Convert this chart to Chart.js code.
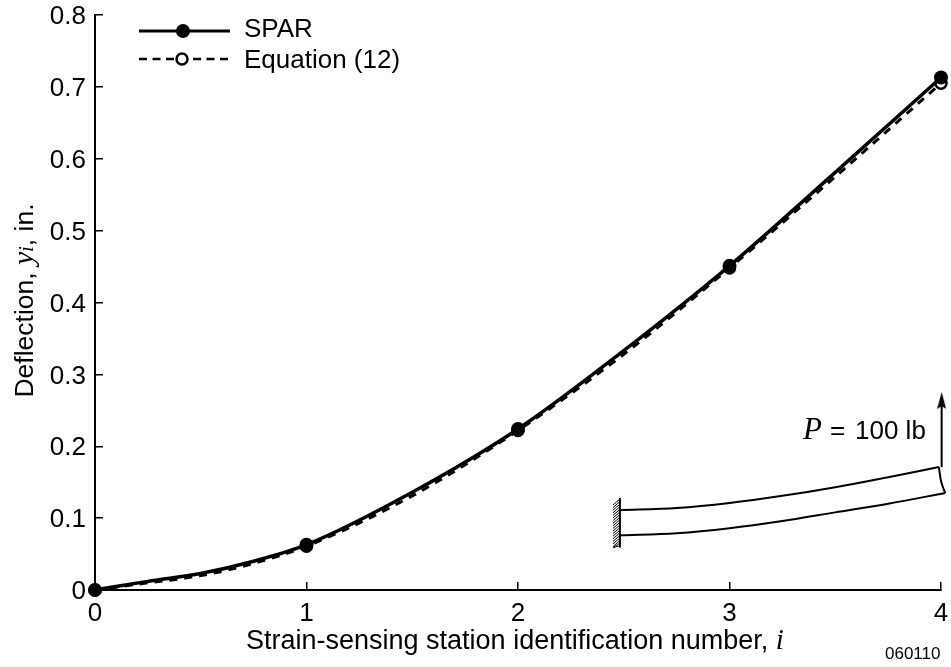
<!DOCTYPE html>
<html><head><meta charset="utf-8">
<style>html,body{margin:0;padding:0;background:#fff}#w{width:951px;height:667px}</style>
<script src="https://cdn.jsdelivr.net/npm/chart.js@4"></script></head>
<body><div id="w"><canvas id="c" width="951" height="667"></canvas></div>
<script>
const stations=[0,0.25,0.5,0.75,1,1.5,2,2.5,3,3.5,4];
const sparValues=[0,0.012,0.023,0.040,0.063,0.136,0.224,0.333,0.451,0.581,0.713];
const equationValues=[0,0.010,0.020,0.037,0.061,0.131,0.222,0.328,0.448,0.575,0.705];
const xTicks=[0,1,2,3,4];
const yTicks=[0,0.1,0.2,0.3,0.4,0.5,0.6,0.7,0.8];
const beamTopX=[2.482,2.75,3,3.25,3.5,3.75,3.99];
const beamTopY=[0.111,0.114,0.121,0.131,0.143,0.157,0.171];
const beamBottomX=[2.482,2.75,3,3.25,3.5,3.75,4.02];
const beamBottomY=[0.076,0.079,0.086,0.096,0.108,0.120,0.135];
const beamEndX=[3.99,3.999,4.02];
const beamEndY=[0.171,0.153,0.135];
const arrowX=[4.003,4.003];
const arrowY=[0.171,0.2637];
const pts=(xs,ys)=>xs.map((x,i)=>({x,y:ys[i]}));
const SANS='"Liberation Sans",Arial,sans-serif', SERIF='"Liberation Serif",serif';
const stationRadius=r=>c=>Number.isInteger(c.raw&&c.raw.x)?r:0;
const inset=(xs,ys)=>({data:pts(xs,ys),borderColor:'#000',borderWidth:2,pointRadius:0,cubicInterpolationMode:'monotone',clip:false,order:5});

const arrowHead=document.createElement('canvas');
arrowHead.width=9;arrowHead.height=17;
(()=>{const g=arrowHead.getContext('2d');g.fillStyle='#000';g.beginPath();g.moveTo(4.5,0);g.lineTo(9,17);g.lineTo(4.5,14);g.lineTo(0,17);g.closePath();g.fill();})();

function runs(ctx,items,x,y){
  for(const [t,f] of items){ctx.font=f;ctx.fillText(t,x,y);x+=ctx.measureText(t).width;}
  return x;
}
function width(ctx,items){let w=0;for(const [t,f] of items){ctx.font=f;w+=ctx.measureText(t).width;}return w;}

const notes={id:'notes',afterDraw(ch){
  const c=ch.ctx,X=ch.scales.x,Y=ch.scales.y;
  c.save();c.fillStyle='#000';c.strokeStyle='#000';c.textBaseline='alphabetic';c.textAlign='left';
  const xt=[['Strain-sensing station identification number, ','27px '+SANS],['i','italic 29px '+SERIF]];
  runs(c,xt,246,649);
  c.save();c.translate(33,300.5);c.rotate(-Math.PI/2);
  const yt=[['Deflection, ','26.5px '+SANS],['y','italic 30px '+SERIF],['i','italic 20px '+SERIF],[', in.','26.5px '+SANS]];
  runs(c,yt,-width(c,yt)/2,0);c.restore();
  c.lineWidth=3;c.beginPath();c.moveTo(139,31);c.lineTo(230,31);c.stroke();
  c.beginPath();c.arc(183,31,7,0,7);c.fill();
  c.setLineDash([8,5.5]);c.lineWidth=2.5;c.beginPath();c.moveTo(139,59);c.lineTo(228,59);c.stroke();c.setLineDash([]);
  c.fillStyle='#fff';c.lineWidth=2.5;c.beginPath();c.arc(182,59,5.5,0,7);c.fill();c.stroke();c.fillStyle='#000';
  c.font='26px '+SANS;c.fillText('SPAR',244,37);c.fillText('Equation (12)',244,68);
  runs(c,[['P','italic 31px '+SERIF]],803,439);
  c.font='26px '+SANS;c.fillText('=',830,439);c.fillText('100 lb',855,439);
  c.font='17px '+SANS;c.fillText('060110',885,659);
  const wx=X.getPixelForValue(2.482),wt=Y.getPixelForValue(0.128),wb=Y.getPixelForValue(0.059);
  c.lineWidth=2;c.beginPath();c.moveTo(wx,wt);c.lineTo(wx,wb);c.stroke();
  c.lineWidth=1;c.beginPath();
  for(let y=wt+1;y<wb;y+=2.6){c.moveTo(wx,y);c.lineTo(wx-7,y+6>wb?wb:y+6);}
  c.stroke();
  c.restore();
}};

new Chart(document.getElementById('c'),{
  type:'line',
  plugins:[notes],
  data:{datasets:[
    {label:'SPAR',data:pts(stations,sparValues),borderColor:'#000',backgroundColor:'#000',borderWidth:3.5,cubicInterpolationMode:'monotone',clip:false,order:1,
     pointRadius:stationRadius(7),pointBorderWidth:0,pointBackgroundColor:'#000'},
    {label:'Equation (12)',data:pts(stations,equationValues),borderColor:'#000',borderWidth:3,borderDash:[8,7],cubicInterpolationMode:'monotone',clip:false,order:2,
     pointRadius:stationRadius(5.5),pointBorderWidth:2.5,pointBorderColor:'#000',pointBackgroundColor:'#fff'},
    inset(beamTopX,beamTopY),inset(beamBottomX,beamBottomY),inset(beamEndX,beamEndY),
    {data:pts(arrowX,arrowY),borderColor:'#000',backgroundColor:'#000',borderWidth:2,clip:false,order:5,
     pointStyle:[false,arrowHead],pointRadius:[0,6],pointBorderWidth:0}
  ]},
  options:{
    responsive:false,animation:false,
    layout:{padding:{left:0,right:10,top:15,bottom:0}},
    plugins:{legend:{display:false},tooltip:{enabled:false}},
    scales:{
      x:{type:'linear',min:0,max:4,
        afterBuildTicks(a){a.ticks=xTicks.map(value=>({value}));},
        afterFit(a){a.height=77;a.paddingLeft=0;a.paddingRight=0;},
        border:{display:true,color:'#000',width:2},
        grid:{drawOnChartArea:false,color:'#000',lineWidth:1.5,tickLength:-8},
        ticks:{color:'#000',font:{family:SANS,size:26},padding:16,maxRotation:0,autoSkip:false,callback:v=>String(v)}},
      y:{type:'linear',min:0,max:0.8,
        afterBuildTicks(a){a.ticks=yTicks.map(value=>({value}));},
        afterFit(a){a.width=95;a.paddingTop=0;a.paddingBottom=0;},
        border:{display:true,color:'#000',width:2},
        grid:{drawOnChartArea:false,color:'#000',lineWidth:1.5,tickLength:-8},
        ticks:{color:'#000',font:{family:SANS,size:26},padding:17,labelOffset:2,autoSkip:false,callback:v=>v===0?'0':v.toFixed(1)}}
    }
  }
});
</script></body></html>
